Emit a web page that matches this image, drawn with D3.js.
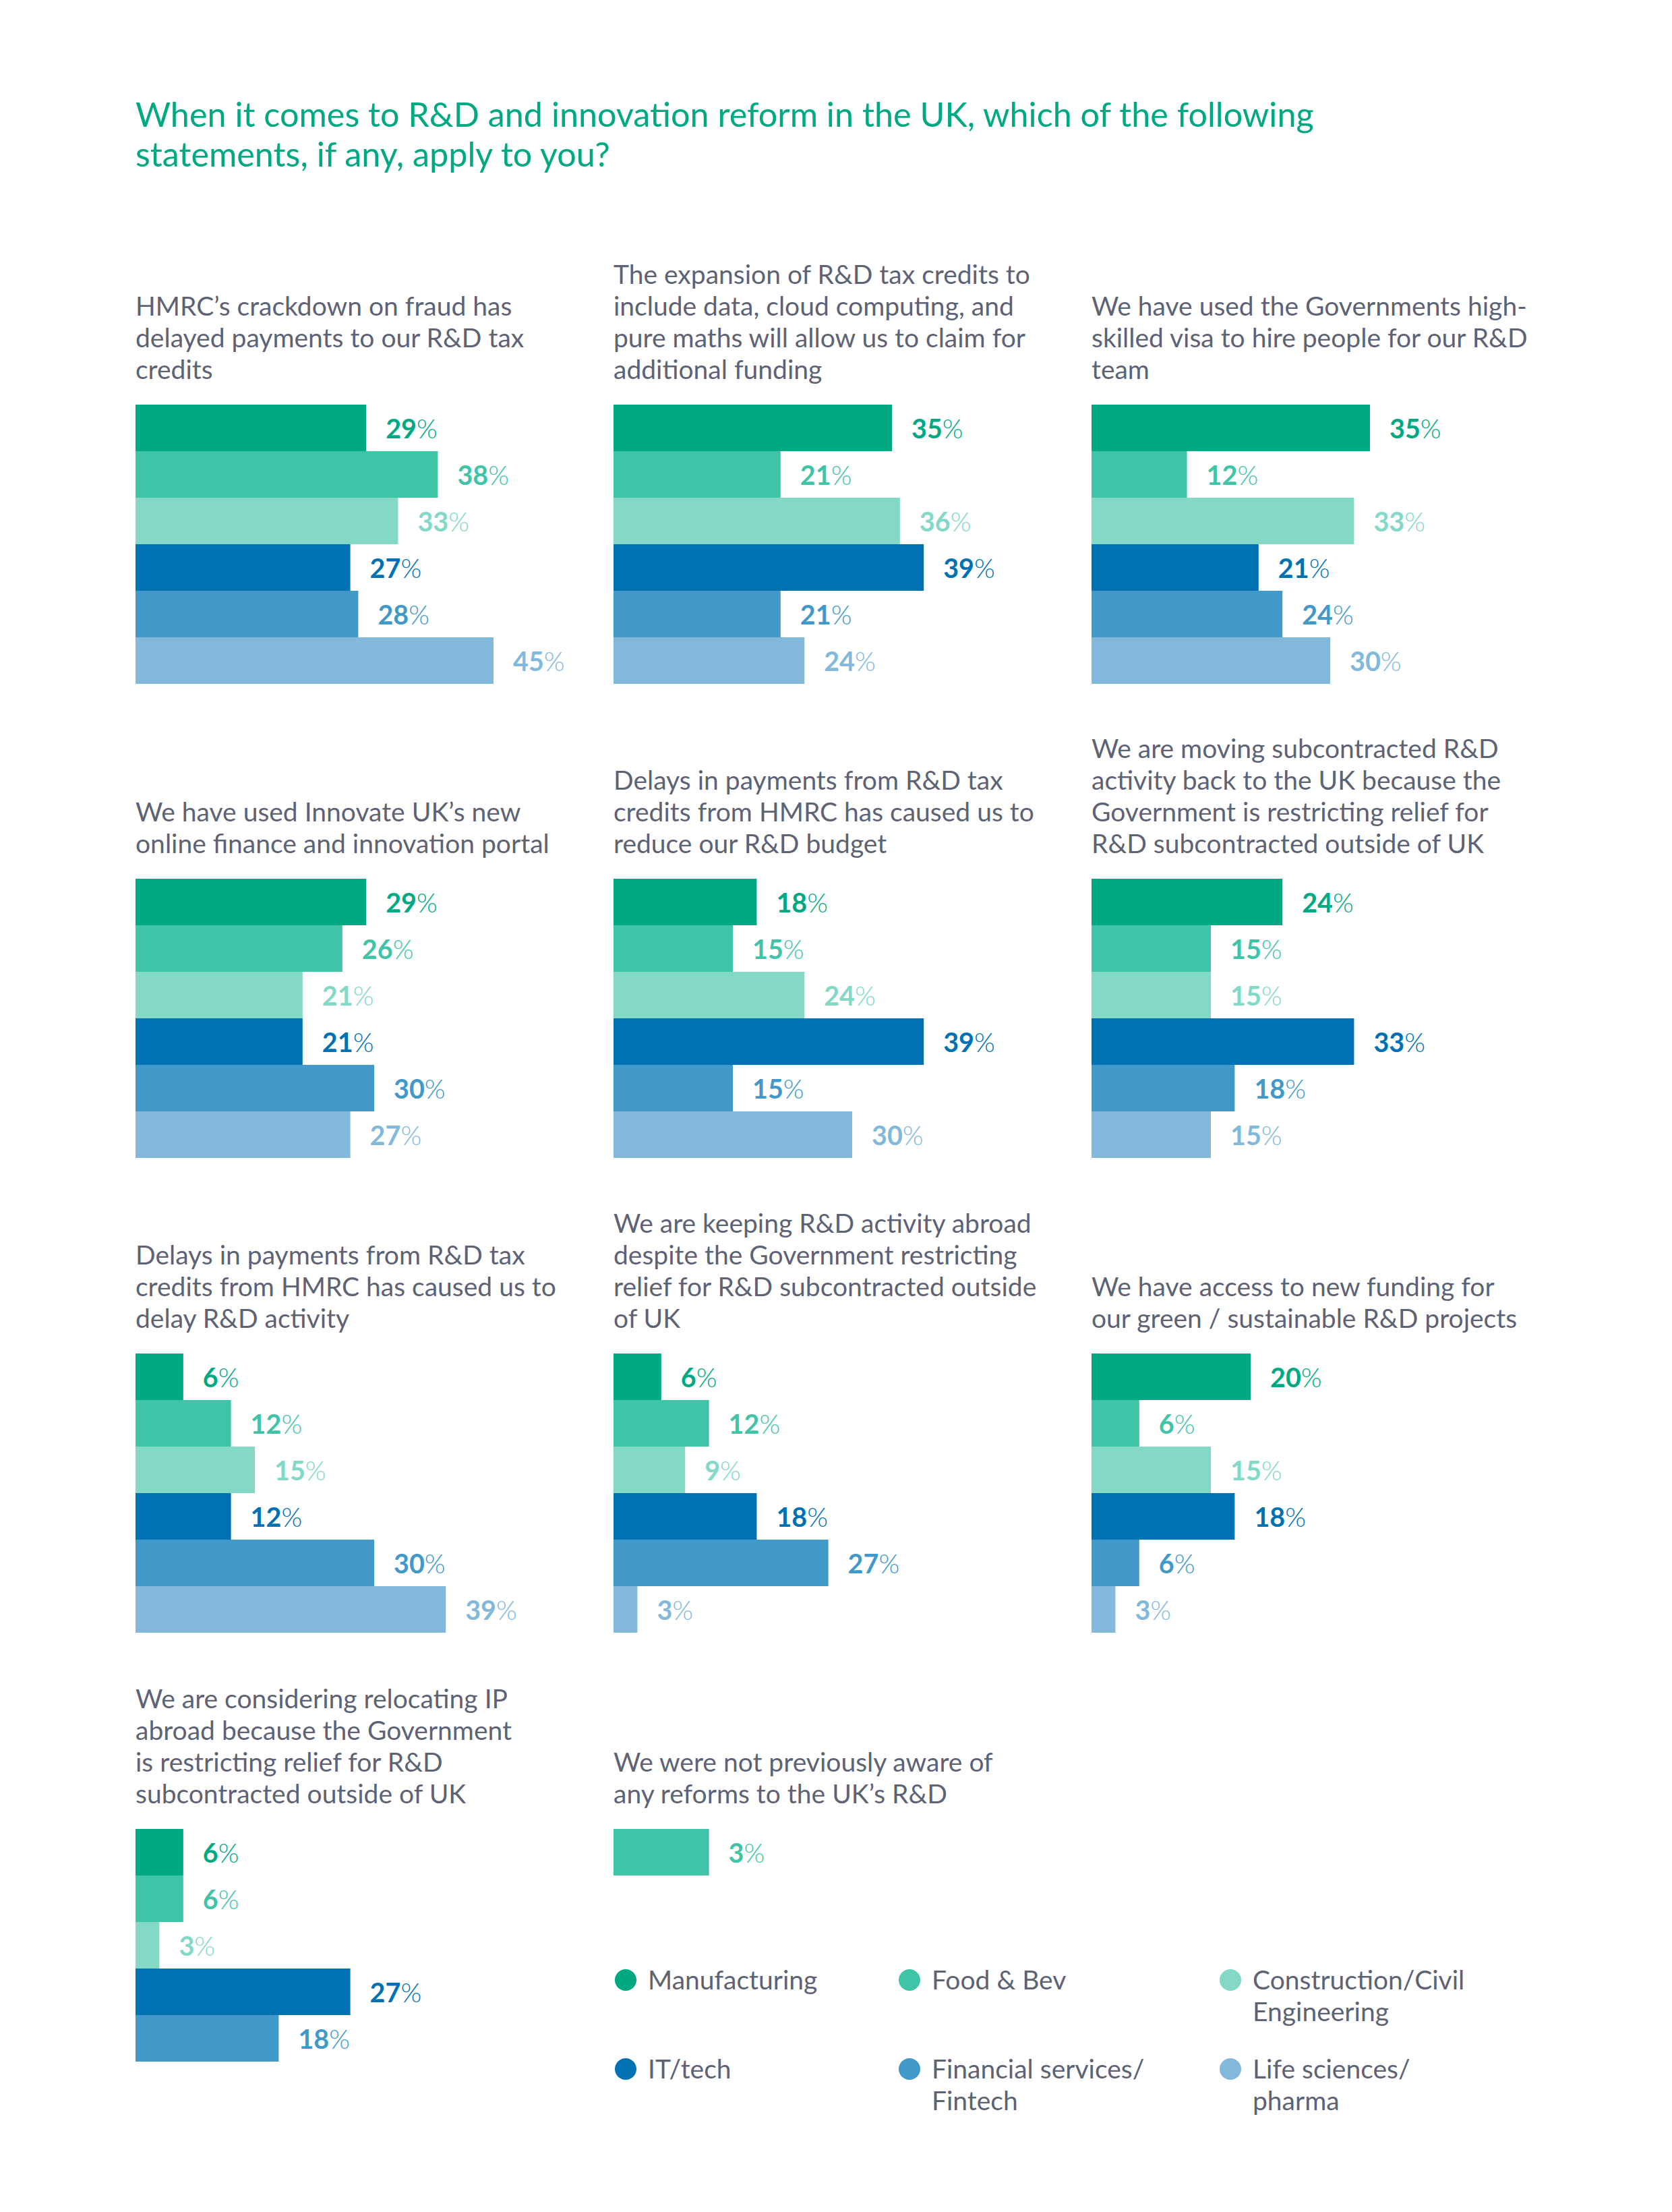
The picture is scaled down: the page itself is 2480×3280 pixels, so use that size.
<!DOCTYPE html>
<html><head><meta charset="utf-8">
<script src="https://cdn.jsdelivr.net/npm/d3@7"></script>
<style>body{margin:0;background:#fff}svg{display:block}</style>
</head><body><svg id="chart"></svg>
<script>
// ---------- data ----------
const sectors = ["Manufacturing", "Food & Bev", "Construction/Civil Engineering", "IT/tech", "Financial services/Fintech", "Life sciences/pharma"];
const legendLines = [["Manufacturing"], ["Food & Bev"], ["Construction/Civil", "Engineering"], ["IT/tech"], ["Financial services/", "Fintech"], ["Life sciences/", "pharma"]];
const sectorColors = ["#00a982", "#40c4a7", "#83d8c6", "#0071b3", "#4199c9", "#82b9db"];

const chartTitle = ["When it comes to R&D and innovation reform in the UK, which of the following", "statements, if any, apply to you?"];

const questionTitles = [
  ["HMRC’s crackdown on fraud has", "delayed payments to our R&D tax", "credits"],
  ["The expansion of R&D tax credits to", "include data, cloud computing, and", "pure maths will allow us to claim for", "additional funding"],
  ["We have used the Governments high-", "skilled visa to hire people for our R&D", "team"],
  ["We have used Innovate UK’s new", "online finance and innovation portal"],
  ["Delays in payments from R&D tax", "credits from HMRC has caused us to", "reduce our R&D budget"],
  ["We are moving subcontracted R&D", "activity back to the UK because the", "Government is restricting relief for", "R&D subcontracted outside of UK"],
  ["Delays in payments from R&D tax", "credits from HMRC has caused us to", "delay R&D activity"],
  ["We are keeping R&D activity abroad", "despite the Government restricting", "relief for R&D subcontracted outside", "of UK"],
  ["We have access to new funding for", "our green / sustainable R&D projects"],
  ["We are considering relocating IP", "abroad because the Government", "is restricting relief for R&D", "subcontracted outside of UK"],
  ["We were not previously aware of", "any reforms to the UK’s R&D"]
];

const hmrcFraudDelay     = [29, 38, 33, 27, 28, 45];
const expansionClaims    = [35, 21, 36, 39, 21, 24];
const highSkilledVisa    = [35, 12, 33, 21, 24, 30];
const innovatePortal     = [29, 26, 21, 21, 30, 27];
const reduceBudget       = [18, 15, 24, 39, 15, 30];
const movingBackToUK     = [24, 15, 15, 33, 18, 15];
const delayActivity      = [6, 12, 15, 12, 30, 39];
const keepingAbroad      = [6, 12, 9, 18, 27, 3];
const greenFunding       = [20, 6, 15, 18, 6, 3];
const relocatingIP       = [6, 6, 3, 27, 18];          // no Life sciences bar
const notAwareValues     = [3];                        // single bar, Food & Bev colour
const notAwareBarLength  = [12];                       // reference draws this bar at this length

// ---------- layout ----------
const W = 2480, H = 3280;
const svg = d3.select("#chart").attr("width", W).attr("height", H);
svg.append("rect").attr("width", W).attr("height", H).attr("fill", "#fff");

const FONT = "Lato, 'Open Sans', sans-serif";
const TITLE_GREEN = "#00a982";
const GREY = "#5d6275";

svg.append("text")
  .attr("x", 201).attr("y", 188)
  .attr("font-family", FONT).attr("font-size", 50.3).attr("fill", TITLE_GREEN)
  .selectAll("tspan").data(chartTitle).join("tspan")
  .attr("x", 201).attr("dy", (d, i) => i === 0 ? 0 : 59).text(d => d);

const colX = [201, 910, 1619];
const rowTop = [600, 1303, 2007, 2712];

const x = d3.scaleLinear().domain([0, 45]).range([0, 531]);
const y = d3.scaleBand().domain(d3.range(6)).range([0, 414]).padding(0);

const panels = [
  { vals: hmrcFraudDelay, col: 0, row: 0 },
  { vals: expansionClaims, col: 1, row: 0 },
  { vals: highSkilledVisa, col: 2, row: 0 },
  { vals: innovatePortal, col: 0, row: 1 },
  { vals: reduceBudget, col: 1, row: 1 },
  { vals: movingBackToUK, col: 2, row: 1 },
  { vals: delayActivity, col: 0, row: 2 },
  { vals: keepingAbroad, col: 1, row: 2 },
  { vals: greenFunding, col: 2, row: 2 },
  { vals: relocatingIP, col: 0, row: 3 },
  { vals: notAwareValues, lengths: notAwareBarLength, colorIdx: [1], col: 1, row: 3 }
];

const LINE_H = 47;
panels.forEach((p, pi) => {
  const g = svg.append("g").attr("transform", `translate(${colX[p.col]},${rowTop[p.row]})`);
  const lines = questionTitles[pi];
  const lastBase = -38;
  g.append("text")
    .attr("font-family", FONT).attr("font-size", 39).attr("fill", GREY)
    .selectAll("tspan").data(lines).join("tspan")
    .attr("x", 0).attr("y", (d, i) => lastBase - (lines.length - 1 - i) * LINE_H)
    .text(d => d);

  const rows = p.vals.map((v, i) => ({
    v,
    len: p.lengths ? p.lengths[i] : v,
    c: sectorColors[p.colorIdx ? p.colorIdx[i] : i],
    i
  }));

  g.selectAll("rect.bar").data(rows).join("rect")
    .attr("class", "bar")
    .attr("x", 0).attr("y", d => y(d.i))
    .attr("width", d => x(d.len)).attr("height", y.bandwidth())
    .attr("fill", d => d.c);

  const lab = g.selectAll("text.lab").data(rows).join("text")
    .attr("class", "lab")
    .attr("x", d => x(d.len) + 29)
    .attr("y", d => y(d.i) + y.bandwidth() / 2)
    .attr("dy", "0.4em")
    .attr("font-family", FONT).attr("font-size", 39.5)
    .attr("fill", d => d.c);
  lab.append("tspan").attr("font-weight", 700).text(d => d.v);
  lab.append("tspan").attr("font-weight", 300).text("%");
});

// ---------- legend ----------
const legX = [928, 1349, 1825];
const legY = [2936, 3068];
sectors.forEach((s, i) => {
  const cx = legX[i % 3], cy = legY[Math.floor(i / 3)];
  const g = svg.append("g");
  g.append("circle").attr("cx", cx).attr("cy", cy).attr("r", 16).attr("fill", sectorColors[i]);
  g.append("text")
    .attr("font-family", FONT).attr("font-size", 39).attr("fill", GREY)
    .selectAll("tspan").data(legendLines[i]).join("tspan")
    .attr("x", cx + 33).attr("y", (d, k) => cy + 14 + k * 47)
    .text(d => d);
});
</script>
</body></html>
